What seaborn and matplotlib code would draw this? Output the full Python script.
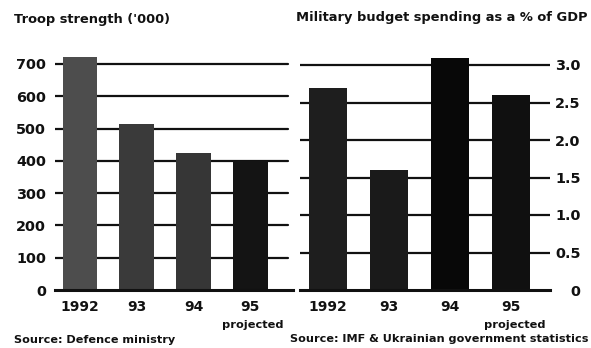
import matplotlib
matplotlib.use("Agg")
import matplotlib.pyplot as plt
import matplotlib.transforms as mtransforms
import seaborn as sns
import pandas as pd

# ---- data ----
years = ["1992", "93", "94", "95"]
troops = [720, 515, 425, 400]          # '000
budget_pct = [2.7, 1.6, 3.1, 2.6]       # % of GDP
troop_ticks = [0, 100, 200, 300, 400, 500, 600, 700]
troop_tick_labels = ["0", "100", "200", "300", "400", "500", "600", "700"]
budget_ticks = [0, 0.5, 1.0, 1.5, 2.0, 2.5, 3.0]
budget_tick_labels = ["0", "0.5", "1.0", "1.5", "2.0", "2.5", "3.0"]
title_left = "Troop strength ('000)"
title_right = "Military budget spending as a % of GDP"
source_left = "Source: Defence ministry"
source_right = "Source: IMF & Ukrainian government statistics"
projected_label = "projected"

left_colors = ["#4d4d4d", "#3a3a3a", "#363636", "#141414"]
right_colors = ["#1e1e1e", "#1a1a1a", "#080808", "#101010"]

sns.set_theme(style="white")
plt.rcParams["font.family"] = ["DejaVu Sans"]
plt.rcParams["font.weight"] = "bold"

W, H = 591, 348
fig = plt.figure(figsize=(W / 100, H / 100), dpi=100)
fig.patch.set_facecolor("white")


def px_axes(x0, x1, ytop, ybot):
    return fig.add_axes([x0 / W, 1 - ybot / H, (x1 - x0) / W, (ybot - ytop) / H])


ink = "#111111"

# ---- left panel ----
axL = px_axes(55, 293, 51, 290)
dfL = pd.DataFrame({"year": years, "value": troops})
sns.barplot(data=dfL, x="year", y="value", hue="year", palette=left_colors,
            legend=False, width=0.615, ax=axL, zorder=3, saturation=1,
            linewidth=0, edgecolor="none")
axL.set_xlim(-0.44, 3.75)
axL.set_ylim(0, 740)
axL.set_yticks(troop_ticks)
axL.set_yticklabels(troop_tick_labels)
for t in troop_ticks[1:]:
    axL.axhline(t, color=ink, lw=1.6, zorder=1, xmax=0.98)

# ---- right panel ----
axR = px_axes(300, 550, 50, 290)
dfR = pd.DataFrame({"year": years, "value": budget_pct})
sns.barplot(data=dfR, x="year", y="value", hue="year", palette=right_colors,
            legend=False, width=0.62, ax=axR, zorder=3, saturation=1,
            linewidth=0, edgecolor="none")
axR.set_xlim(-0.45, 3.63)
axR.set_ylim(0, 3.2)
axR.set_yticks(budget_ticks)
axR.set_yticklabels(budget_tick_labels)
axR.yaxis.tick_right()
for t in budget_ticks[1:]:
    axR.axhline(t, color=ink, lw=1.6, zorder=1)

for ax in (axL, axR):
    for s in ("top", "left", "right"):
        ax.spines[s].set_visible(False)
    ax.spines["bottom"].set_color(ink)
    ax.spines["bottom"].set_linewidth(2.2)
    ax.spines["bottom"].set_zorder(4)
    ax.set_xlabel("")
    ax.set_ylabel("")
    ax.tick_params(axis="x", length=0, pad=7, labelsize=10, colors=ink)
    ax.tick_params(axis="y", length=0, labelsize=10.4, colors=ink)
    for lab in ax.get_xticklabels() + ax.get_yticklabels():
        lab.set_fontweight("bold")
    ax.set_facecolor("white")
    ax.grid(False)
    trans = mtransforms.blended_transform_factory(ax.transData, ax.transAxes)
    ax.text(3.05, -0.147, projected_label, transform=trans, ha="center", va="center",
            fontsize=8.2, fontweight="bold", color=ink)

axL.tick_params(axis="y", pad=6.5)
axR.tick_params(axis="y", pad=22)
for lab in axR.get_yticklabels():
    lab.set_horizontalalignment("right")

# ---- titles and sources ----
fig.text(14 / W, 1 - 19 / H, title_left, ha="left", va="center",
         fontsize=9.4, fontweight="bold", color=ink)
fig.text(588 / W, 1 - 18 / H, title_right, ha="right", va="center",
         fontsize=9.4, fontweight="bold", color=ink)
fig.text(14 / W, 1 - 340 / H, source_left, ha="left", va="center",
         fontsize=8.1, fontweight="bold", color=ink)
fig.text(588 / W, 1 - 339 / H, source_right, ha="right", va="center",
         fontsize=8.1, fontweight="bold", color=ink)

fig.savefig("out.png", dpi=100, facecolor="white")
